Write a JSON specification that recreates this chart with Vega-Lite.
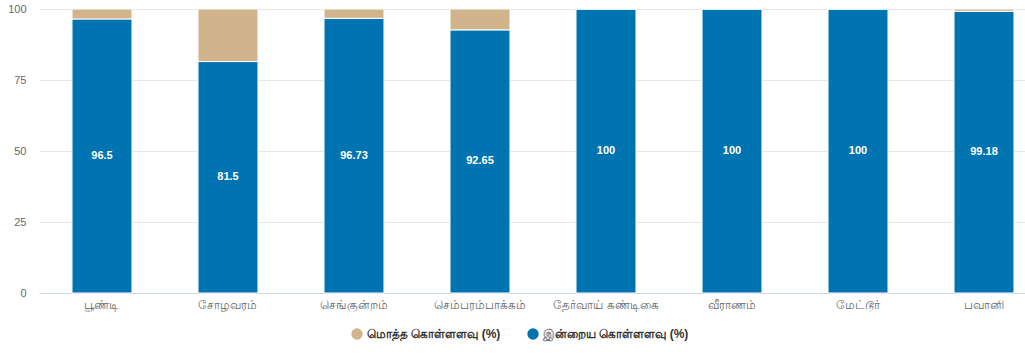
{
  "$schema": "https://vega.github.io/schema/vega-lite/v6.json",
  "autosize": {"type": "none"},
  "padding": {"left": 39, "top": 9, "right": 0, "bottom": 61},
  "width": 986,
  "height": 284,
  "config": {
    "view": {"stroke": null},
    "font": "Liberation Sans",
    "axis": {"labelFont": "Liberation Sans", "labelFontSize": 11, "labelColor": "#666666", "titleFontSize": 11}
  },
  "data": {
    "values": [
      {"reservoir": "பூண்டி", "series": "இன்றைய கொள்ளளவு (%)", "value": 96.5},
      {"reservoir": "பூண்டி", "series": "மொத்த கொள்ளளவு (%)", "value": 3.5},
      {"reservoir": "சோழவரம்", "series": "இன்றைய கொள்ளளவு (%)", "value": 81.5},
      {"reservoir": "சோழவரம்", "series": "மொத்த கொள்ளளவு (%)", "value": 18.5},
      {"reservoir": "செங்குன்றம்", "series": "இன்றைய கொள்ளளவு (%)", "value": 96.73},
      {"reservoir": "செங்குன்றம்", "series": "மொத்த கொள்ளளவு (%)", "value": 3.27},
      {"reservoir": "செம்பரம்பாக்கம்", "series": "இன்றைய கொள்ளளவு (%)", "value": 92.65},
      {"reservoir": "செம்பரம்பாக்கம்", "series": "மொத்த கொள்ளளவு (%)", "value": 7.35},
      {"reservoir": "தேர்வாய் கண்டிகை", "series": "இன்றைய கொள்ளளவு (%)", "value": 100},
      {"reservoir": "தேர்வாய் கண்டிகை", "series": "மொத்த கொள்ளளவு (%)", "value": 0},
      {"reservoir": "வீராணம்", "series": "இன்றைய கொள்ளளவு (%)", "value": 100},
      {"reservoir": "வீராணம்", "series": "மொத்த கொள்ளளவு (%)", "value": 0},
      {"reservoir": "மேட்டூர்", "series": "இன்றைய கொள்ளளவு (%)", "value": 100},
      {"reservoir": "மேட்டூர்", "series": "மொத்த கொள்ளளவு (%)", "value": 0},
      {"reservoir": "பவானி", "series": "இன்றைய கொள்ளளவு (%)", "value": 99.18},
      {"reservoir": "பவானி", "series": "மொத்த கொள்ளளவு (%)", "value": 0.82}
    ]
  },
  "encoding": {
    "x": {
      "field": "reservoir",
      "type": "nominal",
      "sort": null,
      "scale": {"paddingInner": 0.524, "paddingOuter": 0.1746, "align": 0.75},
      "axis": {"title": null, "labelAngle": 0, "labelFontSize": 12, "domainColor": "#ccd6eb", "ticks": false, "labelPadding": 6, "grid": false}
    }
  },
  "layer": [
    {
      "mark": {"type": "bar", "stroke": "white", "strokeWidth": 1},
      "encoding": {
        "y": {
          "field": "value",
          "type": "quantitative",
          "stack": "zero",
          "scale": {"domain": [0, 100], "nice": false},
          "axis": {"title": null, "values": [0, 25, 50, 75, 100], "domain": false, "ticks": false, "labelPadding": 13, "gridColor": "#e6e6e6"}
        },
        "color": {
          "field": "series",
          "type": "nominal",
          "scale": {"domain": ["மொத்த கொள்ளளவு (%)", "இன்றைய கொள்ளளவு (%)"], "range": ["#d2b48c", "#0074b0"]},
          "legend": {
            "title": null,
            "orient": "none",
            "legendX": 312,
            "legendY": 319,
            "direction": "horizontal",
            "symbolType": "circle",
            "symbolSize": 130,
            "symbolStrokeWidth": 0,
            "labelFontSize": 12,
            "labelFontWeight": "bold",
            "labelColor": "#333333",
            "columnPadding": 26
          }
        },
        "order": {"field": "series", "sort": "ascending"}
      }
    },
    {
      "transform": [
        {"filter": "datum.series === 'இன்றைய கொள்ளளவு (%)'"},
        {"calculate": "datum.value / 2", "as": "mid"}
      ],
      "mark": {"type": "text", "color": "white", "fontWeight": "bold", "fontSize": 11, "baseline": "middle", "align": "center"},
      "encoding": {
        "y": {"field": "mid", "type": "quantitative"},
        "text": {"field": "value", "type": "quantitative"}
      }
    }
  ]
}
